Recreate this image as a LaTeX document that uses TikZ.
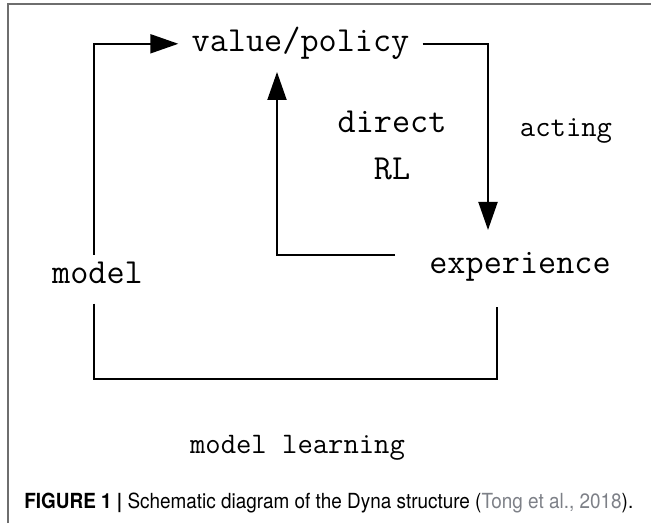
\documentclass[tikz,border=0pt]{standalone}
\usepackage{fontspec}
\usetikzlibrary{arrows.meta}
\newfontfamily\capfont[FakeStretch=0.91]{TeX Gyre Heros}
\definecolor{framegray}{RGB}{110,110,110}
\definecolor{citegray}{RGB}{125,128,135}
\tikzset{
    flow/.style={line width=1pt, -{Triangle[length=14pt,width=9.5pt]}},
    wire/.style={line width=1pt},
    bigtxt/.style={font=\fontsize{17.6}{21}\selectfont\ttfamily, inner sep=0pt, anchor=base},
    smalltxt/.style={font=\fontsize{14.9}{18}\selectfont\ttfamily, inner sep=0pt, anchor=base},
}
\begin{document}
\begin{tikzpicture}[x=0.5pt, y=-0.5pt]

    \useasboundingbox (0,0) rectangle (651,523);
    \draw[framegray, line width=1pt] (8,523) -- (8,4) -- (651,4);

    \node[bigtxt, inner xsep=6.5pt] (vp) at (300.5,52) {value/policy};
    \node[bigtxt, inner ysep=3.25pt] (model) at (97.5,283) {model};
    \node[bigtxt] (exp) at (520,273) {experience};
    \node[bigtxt] (direct) at (392,133) {direct};
    \node[bigtxt] (rl) at (392,180) {RL};
    \node[smalltxt] (acting) at (566,137) {acting};
    \node[smalltxt] (mlearn) at (297.5,453) {model learning};

    \coordinate (act_tip) at (488,230);
    \coordinate (rl_foot) at (395,255);
    \coordinate (rl_tip) at (277,72);
    \coordinate (fb_base) at (497,379);
    \coordinate (fb_end) at (497,307);

    \draw[flow] ([xshift=-1.75pt]model.north) |- (vp.west);
    \draw[flow] (vp.east) -| (act_tip);
    \draw[flow] (rl_foot) -| (rl_tip);
    \draw[wire] ([xshift=-1.75pt,yshift=-6.75pt]model.south) |- (fb_base) -- (fb_end);

    \node[anchor=base west, inner sep=0pt, font=\capfont\fontsize{10.4}{12}\selectfont] (caption) at (24,508)
        {\textbf{FIGURE 1 |} Schematic diagram of the Dyna structure (\textcolor{citegray}{Tong et al., 2018}).};

\end{tikzpicture}
\end{document}
